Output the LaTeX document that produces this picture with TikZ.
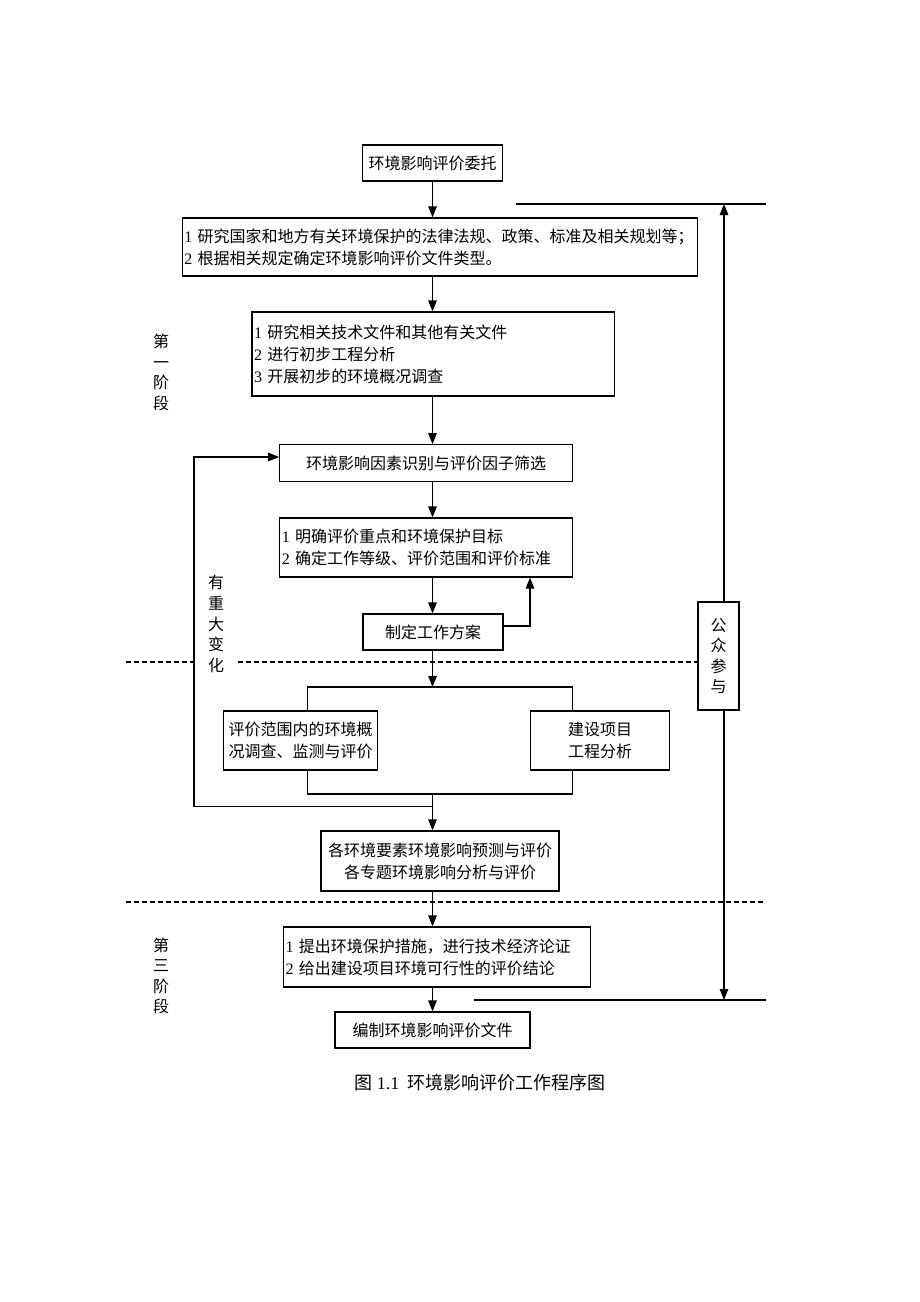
\documentclass[tikz,border=0pt]{standalone}
\usepackage{fontspec}
\setmainfont{Liberation Serif}
\newfontfamily\cjk{Noto Sans CJK SC}
\usetikzlibrary{arrows.meta}
\newcommand\dg[1]{{\rmfamily #1}}
\tikzset{
  box/.style={draw, line width=1.2pt, inner xsep=2pt, inner ysep=0pt, font=\cjk\fontsize{16}{22}\selectfont, anchor=center},
  lbox/.style={box, align=left},
  cbox/.style={box, align=center},
  arr/.style={line width=1.2pt, -{Triangle[length=11pt,width=8.5pt]}},
  ln/.style={line width=1.2pt},
  dln/.style={line width=1.2pt, dash pattern=on 5pt off 3pt},
  vlab/.style={font=\cjk\fontsize{16}{20.5}\selectfont, align=center, inner sep=0pt}
}
\begin{document}
\begin{tikzpicture}[x=1pt,y=-1pt]
\useasboundingbox[fill=white] (0,0) rectangle (920,1302);
% boxes
\node[cbox, minimum width=140pt, minimum height=36pt] (b1) at (432.5,163) {环境影响评价委托};
\node[lbox, text width=511pt, minimum height=58pt] (b2) at (439.8,247) {\dg{1} 研究国家和地方有关环境保护的法律法规、政策、标准及相关规划等；\\\dg{2} 根据相关规定确定环境影响评价文件类型。\\[3pt]};
\node[lbox, text width=358.5pt, minimum height=84pt] (b3) at (433.25,354) {\dg{1} 研究相关技术文件和其他有关文件\\\dg{2} 进行初步工程分析\\\dg{3} 开展初步的环境概况调查\\[6pt]};
\node[cbox, minimum width=292.5pt, minimum height=36.5pt] (b4) at (426,463) {环境影响因素识别与评价因子筛选};
\node[lbox, text width=288.5pt, minimum height=59pt] (b5) at (426,547.5) {\dg{1} 明确评价重点和环境保护目标\\\dg{2} 确定工作等级、评价范围和评价标准};
\node[cbox, minimum width=140pt, minimum height=36pt] (b6) at (433,632) {制定工作方案};
\node[cbox, text width=149.6pt, minimum height=59pt] (b7) at (300.6,740.5) {评价范围内的环境概\\况调查、监测与评价};
\node[cbox, text width=135pt, minimum height=59pt] (b8) at (600,740.5) {建设项目\\工程分析};
\node[cbox, text width=234pt, minimum height=60pt] (b9) at (440,861) {各环境要素环境影响预测与评价\\各专题环境影响分析与评价};
\node[lbox, text width=303pt, minimum height=60pt] (b10) at (437,957) {\dg{1} 提出环境保护措施，进行技术经济论证\\\dg{2} 给出建设项目环境可行性的评价结论};
\node[cbox, minimum width=195pt, minimum height=36pt] (b11) at (432.5,1030) {编制环境影响评价文件};
% coordinates
\coordinate (ax) at (432.5,0);
\coordinate (sp) at (432.5,687);
\coordinate (sl) at (307.8,687);
\coordinate (sr) at (572.3,687);
\coordinate (ml) at (307.8,794);
\coordinate (mr) at (572.3,794);
\coordinate (fb1) at (432.5,806.7);
\coordinate (fb2) at (194,806.7);
\coordinate (fb3) at (194,457);
\coordinate (fr1) at (530,626);
\coordinate (ctop) at (724,204);
\coordinate (cbot) at (724,1000);
\coordinate (ht1) at (516,204);
\coordinate (ht2) at (766,204);
\coordinate (hb1) at (474,1000);
\coordinate (hb2) at (766,1000);
\coordinate (d1a) at (126,662);
\coordinate (d2a) at (126,902);
\coordinate (d2b) at (763,902);
% dashed stage separators
\node[draw, line width=1.2pt, fill=white, minimum width=41pt, minimum height=108pt, inner sep=0pt] (gz) at (718.5,656) {};
\draw[dln] (d1a) -- (gz.west |- d1a);
\draw[dln] (d2a) -- (d2b);
% labels
\node[vlab] (s1) at (161,372.5) {第\\一\\阶\\段};
\node[vlab] (s3) at (161,976) {第\\三\\阶\\段};
\node[vlab, fill=white, inner xsep=13pt, inner ysep=1pt, font=\cjk\fontsize{16}{20.8}\selectfont] (chg) at (216,624) {有\\重\\大\\变\\化};
\node[vlab] (gzt) at (gz.center) {公\\众\\参\\与};
% main flow
\draw[arr] (b1.south -| ax) -- (b2.north -| ax);
\draw[arr] (b2.south -| ax) -- (b3.north -| ax);
\draw[arr] (b3.south -| ax) -- (b4.north -| ax);
\draw[arr] (b4.south -| ax) -- (b5.north -| ax);
\draw[arr] (b5.south -| ax) -- (b6.north -| ax);
\draw[arr] (b6.south -| ax) -- (sp);
\draw[ln] (b7.north -| sl) -- (sl) -- (sr) -- (b8.north -| sr);
\draw[ln] (b7.south -| ml) -- (ml) -- (mr) -- (b8.south -| mr);
\draw[arr] (ax |- ml) -- (b9.north -| ax);
\draw[arr] (b9.south -| ax) -- (b10.north -| ax);
\draw[arr] (b10.south -| ax) -- (b11.north -| ax);
% feedback loops
\draw[arr] (fb1) -- (fb2) -- (fb3) -- (b4.west |- fb3);
\draw[arr] (b6.east |- fr1) -- (fr1) -- (fr1 |- b5.south);
% public participation
\draw[ln] (ht1) -- (ht2);
\draw[ln] (hb1) -- (hb2);
\draw[arr] (gz.north -| ctop) -- (ctop);
\draw[arr] (gz.south -| cbot) -- (cbot);
% caption
\node[inner sep=0pt, font=\cjk\fontsize{18}{22}\selectfont] (cap) at (480,1083) {图 \dg{1.1}\hspace{8pt}环境影响评价工作程序图};
\end{tikzpicture}
\end{document}
